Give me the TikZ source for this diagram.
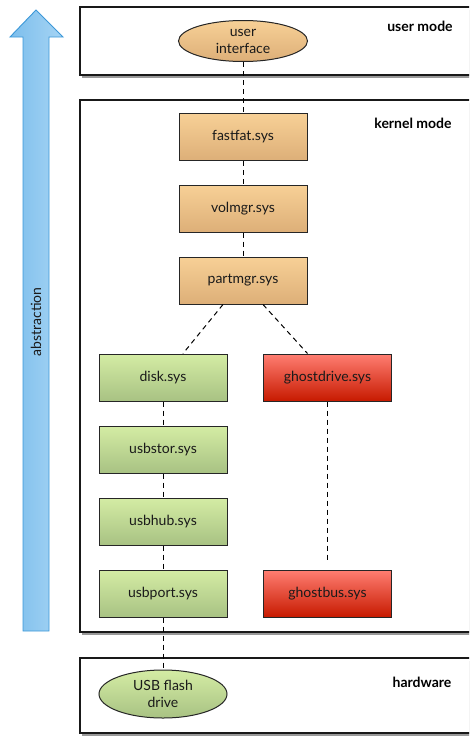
\documentclass[tikz,border=0pt]{standalone}
\usepackage{fontspec}
\setmainfont{Lato}
\usetikzlibrary{shadows,shapes.geometric}
\definecolor{orT}{HTML}{F7D096}
\definecolor{orB}{HTML}{DDAF78}
\definecolor{grT}{HTML}{D4ECA4}
\definecolor{grB}{HTML}{A8C283}
\definecolor{rdT}{HTML}{FF7E72}
\definecolor{rdB}{HTML}{C71A00}
\definecolor{blL}{HTML}{7CBEEC}
\definecolor{blR}{HTML}{A6D4F4}
\definecolor{blE}{HTML}{3C98D8}
\definecolor{txt}{HTML}{1A1A1A}
\tikzset{
  layer/.style={draw=black!90, line width=1.3pt, fill=white,
    drop shadow={shadow xshift=1.5pt, shadow yshift=-3pt, opacity=0.4, fill=black}},
  modbox/.style={draw=black!85, line width=1pt, minimum width=128pt, minimum height=47pt,
    inner sep=0pt, font=\fontsize{14}{16}\selectfont, text=txt},
  orange/.style={modbox, top color=orT, bottom color=orB},
  green/.style={modbox, top color=grT, bottom color=grB},
  red/.style={modbox, top color=rdT, bottom color=rdB},
  oval/.style={ellipse, draw=black!85, line width=1pt, inner sep=0pt,
    align=center, font=\fontsize{14}{19}\selectfont, text=txt},
  lbl/.style={font=\bfseries\fontsize{14}{16}\selectfont, text=black},
  link/.style={line width=1pt, dash pattern=on 5pt off 4pt},
}
\begin{document}
\begin{tikzpicture}[x=1pt,y=-1pt]
\useasboundingbox (0,0) rectangle (469,736);
\clip (0,0) rectangle (469,736);
% layers
\draw[layer] (80,7) rectangle (480,75);
\draw[layer] (80,100) rectangle (480,632);
\draw[layer] (80,658) rectangle (480,733);
\node[lbl] (um) at (420,26) {user mode};
\node[lbl] (km) at (413,123) {kernel mode};
\node[lbl] (hw) at (422,682) {hardware};
% abstraction arrow
\draw[draw=blE, line width=0.9pt, left color=blL, right color=blR]
  (23,631) -- (23,37) -- (10,37) -- (36,10) -- (63,37) -- (49,37) -- (49,631) -- cycle;
\node[rotate=90, font=\fontsize{14}{16}\selectfont, text=txt] (abs) at (36,322) {abstraction};
% nodes
\node[oval, minimum width=129pt, minimum height=41pt, top color=orT, bottom color=orB] (ui) at (243,41) {user\\[-2pt]interface};
\node[orange] (ff) at (243,137) {fastfat.sys};
\node[orange] (vm) at (243,208.5) {volmgr.sys};
\node[orange] (pm) at (243,280.5) {partmgr.sys};
\node[green] (disk) at (163,377.5) {disk.sys};
\node[green] (stor) at (163,449.5) {usbstor.sys};
\node[green] (hub) at (163,521.5) {usbhub.sys};
\node[green] (port) at (163,593.5) {usbport.sys};
\node[red] (gd) at (327.5,377.5) {ghostdrive.sys};
\node[red] (gb) at (327.5,593.5) {ghostbus.sys};
\node[oval, minimum width=128pt, minimum height=48pt, top color=grT, bottom color=grB] (usb) at (163,694) {USB flash\\[-2pt]drive};
% connectors
\draw[link] (ui.south) -- (ff.north);
\draw[link] (ff.south) -- (vm.north);
\draw[link] (vm.south) -- (pm.north);
\draw[link] ([xshift=-20pt]pm.south) -- ([xshift=20pt]disk.north);
\draw[link] ([xshift=20pt]pm.south) -- ([xshift=-20pt]gd.north);
\draw[link] (disk.south) -- (stor.north);
\draw[link] (stor.south) -- (hub.north);
\draw[link] (hub.south) -- (port.north);
\draw[link] (gd.south) -- ([yshift=7pt]gb.north);
\draw[link] (port.south) -- (usb.north);
\end{tikzpicture}
\end{document}
